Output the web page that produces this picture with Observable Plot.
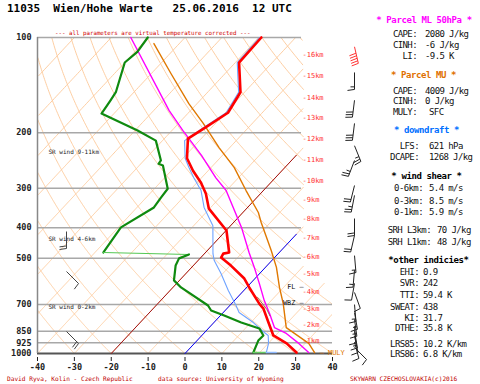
<!DOCTYPE html>
<html><head><meta charset="utf-8">
<script src="https://cdn.jsdelivr.net/npm/d3@7"></script>
<script src="https://cdn.jsdelivr.net/npm/@observablehq/plot@0.6"></script>
<style>
html,body{margin:0;padding:0;background:#fff}
body{width:480px;height:384px;overflow:hidden;position:relative;font-family:"DejaVu Sans Mono",monospace}
#chart{position:absolute;left:0;top:0}
.t{position:absolute;white-space:pre;line-height:1}
</style></head><body>
<div id="chart"></div>
<script>
// ---------- DATA ----------
const title = "11035  Wien/Hohe Warte   25.06.2016  12 UTC";
const note = "--- all parameters are virtual temperature corrected ---";
const footer = ["David Ryva, Kolin - Czech Republic", "data source: University of Wyoming", "SKYWARN CZECHOSLOVAKIA(c)2016"];

const xTicks = [-40,-30,-20,-10,0,10,20,30,40];
const yTicks = [100,200,300,400,500,700,850,925,1000];

// temperature (red)
const tempP = [100,120,149,173,194,209,241,264,288,312,348,408,479,483,497,527,579,618,695,721,798,877,929,993];
const tempT = [-59.3,-59.0,-51.1,-49.3,-51.8,-53.6,-48.9,-44.1,-38.9,-34.8,-30.2,-19.9,-13.6,-14.9,-14.5,-9.8,-2.9,0.7,7.5,9.9,14.8,19.4,25.0,30.0];
// dew point (green), upper and lower part
const dewP1 = [100,111,120,149,158,174,197,212,245,251,254,301,321,345,399,408,479];
const dewT1 = [-90.1,-89.3,-90.0,-84.9,-84.3,-83.4,-69.3,-61.8,-55.4,-55.2,-53.6,-46.4,-46.0,-45.4,-49.3,-49.1,-47.7];
const dewP2 = [486,500,527,587,618,705,731,758,798,833,877,910,978,993];
const dewT2 = [-24.0,-25.7,-24.8,-21.5,-17.8,-5.9,-3.8,1.0,7.4,13.8,16.7,16.6,18.0,18.3];
// wet bulb (light blue)
const wbP = [100,120,149,173,194,212,241,258,278,305,345,394,483,508,558,632,705,742,798,858,877,929,993];
const wbT = [-59.8,-59.5,-51.6,-49.8,-52.3,-54.0,-49.4,-46.0,-42.1,-36.9,-31.8,-24.8,-17.7,-15.6,-10.5,-4.2,1.7,4.3,10.7,16.2,18.0,20.1,21.8];
// ML parcel (magenta)
const mlP = [100,170,197,236,278,305,345,399,479,534,600,680,747,828,864,929,993];
const mlT = [-94.7,-65.9,-57.0,-45.7,-36.1,-30.1,-23.9,-16.6,-8.2,-3.0,2.4,8.1,12.8,17.7,22.4,28.3,33.3];
// MU parcel (orange)
const muP = [104.5,130,162,187,223,258,305,358,385,472,534,618,695,828,864,929,993];
const muT = [-86.9,-74.7,-62.2,-53.3,-42.9,-33.7,-24.7,-15.8,-12.5,-2.7,3.0,8.9,14.0,20.9,24.6,31.0,34.9];
// thin brown line beside temperature
const brP = [665,700,725,760];
const brT = [5.5,8.8,11.0,13.5];
// surface short segments
const sfcP = 993;
const sfcGreenT = [18.3, 21.8];
const sfcBlueT = [21.8, 24.5];
// highlighted isotherms
const isoBlue = 0, isoRed = -20;
// height labels
const kmH = [1,2,3,4,5,6,7,8,9,10,11,12,13,14,15,16];
const kmP = [910,810,720,636,558,493,430,374,326,284,243,209,180,155,132,113];
// level labels
const lvlNames = ["FL —", "WBZ —"];
const lvlP = [614, 690];
// SR wind
const srNames = ["SR wind 9-11km", "SR wind 4-6km", "SR wind 0-2km"];
const srTextP = [231, 436, 715];
const srBarbP = [231, 271, 331].map(y => 1000 * Math.pow(10, -(353 - y) / 316));
const srDir = [180, 135, 135];
const srSpd = [20, 10, 20];
// wind barbs (right column)
const barbP = [107,129,158,187,220,245,294,316,374,423,490,545,600,641,700,742,780,820,850,880,920,957];
const barbDir = [167,180,187,187,158,201,194,191,180,193,175,185,190,160,175,170,172,175,170,168,165,135];
const barbSpd = [50,15,30,30,25,25,20,25,20,20,15,15,10,10,15,15,15,10,15,10,10,10];

// right panel
const mlLabels=["CAPE:","CINH:","LI:"], mlValues=["2080 J/kg","-6 J/kg","-9.5 K"];
const muLabels=["CAPE:","CINH:","MULY:"], muValues=["4009 J/kg","0 J/kg","SFC"];
const ddLabels=["LFS:","DCAPE:"], ddValues=["621 hPa","1268 J/kg"];
const shLabels=["0-6km:","0-3km:","0-1km:","SRH L3km:","SRH L1km:"], shValues=["5.4 m/s","8.5 m/s","5.9 m/s","70 J/kg","48 J/kg"];
const oiLabels=["EHI:","SVR:","TTI:","SWEAT:","KI:","DTHE:","LRS85:","LRS86:"], oiValues=["0.9","242","59.4 K","438","31.7","35.8 K","10.2 K/km","6.8 K/km"];
const headers = ["* Parcel ML 50hPa *","* Parcel MU *","* downdraft *","* wind shear *","*other indicies*"];

// ---------- GEOMETRY ----------
const W = 480, H = 384, mL = 37, mR = 148, mT = 37, mB = 31;
const SKEW = 80;
const xS = Plot.scale({x: {domain: [-40, 40], range: [mL, W - mR]}});
const yS = Plot.scale({y: {type: "log", domain: [100, 1000], range: [mT, H - mB]}});
const sk = (T, p) => T + SKEW * Math.log10(1000 / p);
const rows = (P, T) => P.map((p, i) => ({p, x: sk(T[i], p)}));

// background grid, clipped to a narrower area in the upper part
const edgePx = p => p < 600 ? 303 : 332;
function clipGrid(pts) {
  const out = []; let seg = 0, prevIn = false, prevK = null;
  pts.forEach(d => {
    if (d.k !== prevK) { prevIn = false; prevK = d.k; }
    const px = xS.apply(d.x);
    const inside = px >= mL && px <= edgePx(d.p);
    if (inside) { if (!prevIn) seg++; out.push({...d, z: d.k + "_" + seg}); }
    prevIn = inside;
  });
  return out;
}
const isoPts = [];
for (let T = -130; T <= 40; T += 10) for (let p = 1000; p >= 100; p -= 2) isoPts.push({k: "i" + T, p, x: sk(T, p)});
const adiPts = [];
for (let th = -40; th <= 190; th += 10) {
  for (let p = 1000; p >= 100; p -= 2) {
    const T = (th + 273.15) * Math.pow(p / 1000, 0.2857) - 273.15;
    adiPts.push({k: "a" + th, p, x: sk(T, p)});
  }
}
const isoGrid = clipGrid(isoPts), adiGrid = clipGrid(adiPts);
const hiIso = [isoBlue, isoRed].map(T => {
  const pEnd = 1000 / Math.pow(10, (30.2 - T) / SKEW);
  return [{p: 1000, x: sk(T, 1000)}, {p: pEnd, x: sk(T, pEnd)}];
});

function barbSegs(P, D, S, xPx, len) {
  const segs = [];
  P.forEach((p, i) => {
    const bx = xPx, by = yS.apply(p);
    const a = D[i] * Math.PI / 180;
    const ux = Math.sin(a), uy = -Math.cos(a);
    const tx = bx + len * ux, ty = by + len * uy;
    segs.push([bx, by, tx, ty, i]);
    const px = -uy, py = ux;
    let s = S[i], k = 0;
    while (s >= 10) { const sx = tx - ux * 2.6 * k, sy = ty - uy * 2.6 * k; segs.push([sx, sy, sx + px * 7 + ux, sy + py * 7 + uy, i]); s -= 10; k++; }
    if (s >= 5) { const sx = tx - ux * 2.6 * k, sy = ty - uy * 2.6 * k; segs.push([sx, sy, sx + px * 4, sy + py * 4, i]); }
  });
  return segs.map(([x1, y1, x2, y2, i]) => ({x1: xS.invert(x1), y1: yS.invert(y1), x2: xS.invert(x2), y2: yS.invert(y2), i}));
}
const rightBarbs = barbSegs(barbP, barbDir, barbSpd, 354, 17);
const srBarbs = barbSegs(srBarbP, srDir, srSpd, 66, 17);

const xEdgeUpper = xS.invert(301);
const FONT = "DejaVu Sans Mono";

const plot = Plot.plot({
  width: W, height: H,
  marginLeft: mL, marginRight: mR, marginTop: mT, marginBottom: mB,
  x: {domain: [-40, 40], range: [mL, W - mR]},
  y: {type: "log", domain: [100, 1000], range: [mT, H - mB]},
  style: {fontFamily: FONT, fontSize: "8.5px", fontWeight: "bold", color: "#222", background: "transparent", overflow: "visible"},
  marks: [
    Plot.line(isoGrid, {x: "x", y: "p", z: "z", stroke: "#fdc898", strokeWidth: 0.9, clip: true}),
    Plot.line(adiGrid, {x: "x", y: "p", z: "z", stroke: "#fdc898", strokeWidth: 0.9, clip: true}),
    Plot.ruleY(yTicks.filter(p => p < 1000), {y: d => d, x1: -40, x2: d => d <= 500 ? xEdgeUpper : 40, stroke: "#a8a8a8", strokeWidth: 1.5}),
    Plot.ruleY([1000], {stroke: "#555", strokeWidth: 2}),
    Plot.ruleX([-40], {stroke: "#888", strokeWidth: 1.5}),
    Plot.line(hiIso[0], {x: "x", y: "p", stroke: "#0000ff", strokeWidth: 1}),
    Plot.line(hiIso[1], {x: "x", y: "p", stroke: "#a01010", strokeWidth: 1}),
    Plot.line(rows(muP, muT), {x: "x", y: "p", stroke: "#e07800", strokeWidth: 1.4}),
    Plot.line(rows(mlP, mlT), {x: "x", y: "p", stroke: "#ff00ff", strokeWidth: 1.4}),
    Plot.line(rows(wbP, wbT), {x: "x", y: "p", stroke: "#6fa3ff", strokeWidth: 1.1}),
    Plot.line(rows(dewP1, dewT1), {x: "x", y: "p", stroke: "#0f8a0f", strokeWidth: 2.2}),
    Plot.line([{p: dewP1[dewP1.length - 1], x: sk(dewT1[dewT1.length - 1], dewP1[dewP1.length - 1])}, {p: dewP2[0], x: sk(dewT2[0], dewP2[0])}], {x: "x", y: "p", stroke: "#55c855", strokeWidth: 1.2}),
    Plot.line(rows(dewP2, dewT2), {x: "x", y: "p", stroke: "#0f8a0f", strokeWidth: 2.2}),
    Plot.line(sfcGreenT.map(T => ({p: sfcP, x: sk(T, sfcP)})), {x: "x", y: "p", stroke: "#66cc66", strokeWidth: 1.5}),
    Plot.line(sfcBlueT.map(T => ({p: sfcP, x: sk(T, sfcP)})), {x: "x", y: "p", stroke: "#8fbaff", strokeWidth: 1.5}),
    Plot.line(rows(brP, brT), {x: "x", y: "p", stroke: "#9a5a3a", strokeWidth: 0.9}),
    Plot.line(rows(tempP, tempT), {x: "x", y: "p", stroke: "#ff0000", strokeWidth: 2.6}),
    Plot.axisY({ticks: yTicks, tickSize: 0, tickPadding: 6, tickFormat: d => String(d), fontWeight: "bold", fontFamily: FONT, fontSize: 8.5}),
    Plot.axisX({ticks: xTicks, tickSize: 4, tickPadding: 2, tickFormat: d => String(d), dy: 4, fontWeight: "bold", fontFamily: FONT, fontSize: 8.5, label: null}),
    Plot.text(kmH.map((h, i) => ({h, p: kmP[i]})), {y: "p", text: d => "-" + d.h + "km", frameAnchor: "right", textAnchor: "start", dx: -30, fill: "#ff3030", fontSize: 7, fontWeight: "normal", fontFamily: FONT}),
    Plot.text(lvlNames.map((n, i) => ({n, p: lvlP[i]})), {y: "p", text: "n", frameAnchor: "right", textAnchor: "end", dx: -29, fill: "#111", fontSize: 6.8, fontWeight: "normal", fontFamily: FONT}),
    Plot.text(["— MULY"], {y: () => sfcP, text: d => d, frameAnchor: "right", textAnchor: "start", dx: -13, fill: "#e07800", fontSize: 7, fontWeight: "normal", fontFamily: FONT}),
    Plot.text(srNames.map((n, i) => ({n, p: srTextP[i]})), {y: "p", text: "n", frameAnchor: "left", textAnchor: "start", dx: 11, fill: "#222", fontSize: 6, fontWeight: "normal", fontFamily: FONT}),
    Plot.link(srBarbs, {x1: "x1", y1: "y1", x2: "x2", y2: "y2", stroke: "#444", strokeWidth: 1}),
    Plot.link(rightBarbs, {x1: "x1", y1: "y1", x2: "x2", y2: "y2", stroke: d => d.i === 0 ? "#ff3333" : "#222", strokeWidth: 1})
  ]
});
document.getElementById("chart").appendChild(plot);

// ---------- TEXT OVERLAY ----------
function txt(s, opts) {
  const d = document.createElement("div");
  d.className = "t";
  d.textContent = s;
  Object.assign(d.style, opts);
  document.body.appendChild(d);
  return d;
}
txt(title, {left: "7px", top: "2.5px", fontSize: "11px", fontWeight: "bold", color: "#000"});
txt(note, {left: "55px", top: "30.6px", fontSize: "5.8px", color: "#d00000"});
const footX = [7, 158, 350];
footer.forEach((s, i) => txt(s, {left: footX[i] + "px", top: "376px", fontSize: "6.15px", color: "#c00000"}));

const headY = [20, 75, 130, 176, 260];
const headC = [424, 423.5, 426.5, 426.5, 428.5];
const headCol = ["#ff00ff", "#e07000", "#0070ff", "#000", "#000"];
headers.forEach((s, i) => {
  const d = txt(s, {top: (headY[i] - 4.5) + "px", fontSize: "9px", fontWeight: "bold", letterSpacing: "-0.4px", color: headCol[i]});
  const w = d.getBoundingClientRect().width;
  d.style.left = (headC[i] - w / 2) + "px";
});
function block(labels, values, ys, colonX, valX) {
  labels.forEach((l, i) => {
    const cx = Array.isArray(colonX) ? colonX[i] : colonX;
    const vx = Array.isArray(valX) ? valX[i] : valX;
    txt(l, {right: (480 - cx) + "px", top: (ys[i] - 4.3) + "px", fontSize: "9px", letterSpacing: "-0.6px", color: "#111"});
    txt(values[i], {left: vx + "px", top: (ys[i] - 4.3) + "px", fontSize: "9px", letterSpacing: "-0.6px", color: "#111"});
  });
}
block(mlLabels, mlValues, [34, 45, 56], 417, 425);
block(muLabels, muValues, [91, 101, 112], 417, [425, 425, 429]);
block(ddLabels, ddValues, [146, 157], 419, 429);
block(shLabels, shValues, [188, 201, 212, 230, 242], [423, 423, 423, 431, 431], [429, 429, 429, 437, 437]);
block(oiLabels, oiValues, [272, 283, 295, 307, 318, 328, 344, 354], 419, 423);
</script>
</body></html>
